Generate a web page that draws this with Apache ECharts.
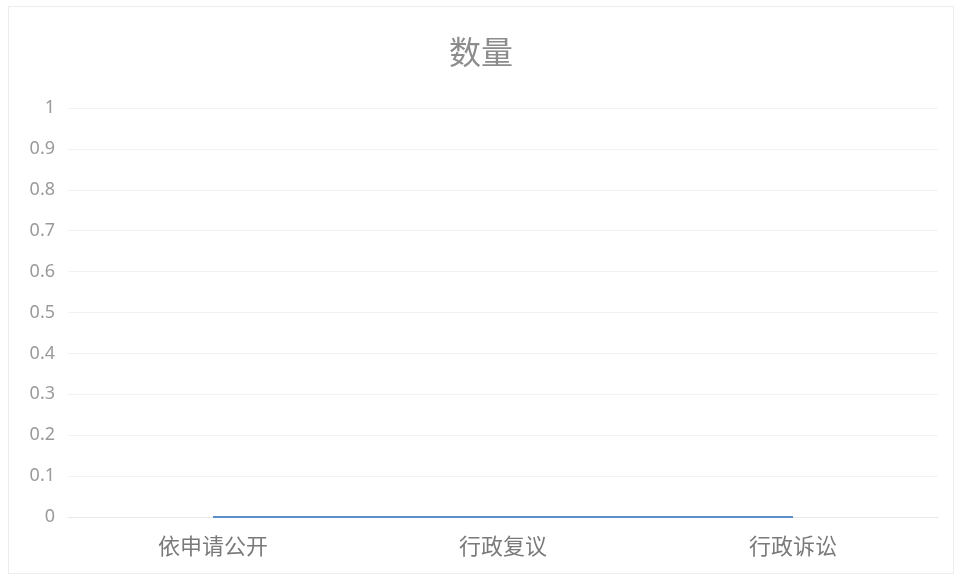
<!DOCTYPE html>
<html>
<head>
<meta charset="utf-8">
<script src="https://cdn.jsdelivr.net/npm/echarts@6/dist/echarts.min.js"></script>
<style>
html,body{margin:0;padding:0;background:#fff;}
#frame{position:absolute;left:8px;top:6px;width:946px;height:568px;border:1px solid #ececec;box-sizing:border-box;}
#chart{position:absolute;left:0;top:0;width:962px;height:581px;}
</style>
</head>
<body>
<div id="frame"></div>
<div id="chart"></div>
<script>
var titleText = '数量';
var categories = ['依申请公开', '行政复议', '行政诉讼'];
var values = [0, 0, 0];
var yMin = 0, yMax = 1, yInterval = 0.1;

var chart = echarts.init(document.getElementById('chart'), null, {renderer: 'canvas'});
chart.setOption({
  animation: false,
  backgroundColor: 'transparent',
  title: {
    text: titleText,
    left: 'center',
    top: 31,
    textStyle: {color: '#8c8c8c', fontSize: 32, fontWeight: 'normal', fontFamily: 'Noto Sans CJK SC'}
  },
  grid: {left: 68, right: 24, top: 108, bottom: 64, containLabel: false},
  xAxis: {
    type: 'category',
    data: categories,
    boundaryGap: true,
    axisLine: {show: true, lineStyle: {color: '#e8e8e8', width: 1}},
    axisTick: {show: false},
    axisLabel: {color: '#7a7a7a', fontSize: 22, margin: 18, fontFamily: 'Noto Sans CJK SC', interval: 0}
  },
  yAxis: {
    type: 'value',
    min: yMin, max: yMax, interval: yInterval,
    axisLine: {show: false},
    axisTick: {show: false},
    axisLabel: {color: '#9a9a9a', fontSize: 18, margin: 13, fontFamily: 'Noto Sans',
      formatter: function (v) { return String(Math.round(v * 10) / 10); }},
    splitLine: {lineStyle: {color: '#f2f2f2', width: 1}}
  },
  series: [{
    type: 'line',
    data: values,
    symbol: 'none',
    lineStyle: {color: '#5b8fc9', width: 2},
    itemStyle: {color: '#5b8fc9'}
  }]
});
</script>
</body>
</html>
